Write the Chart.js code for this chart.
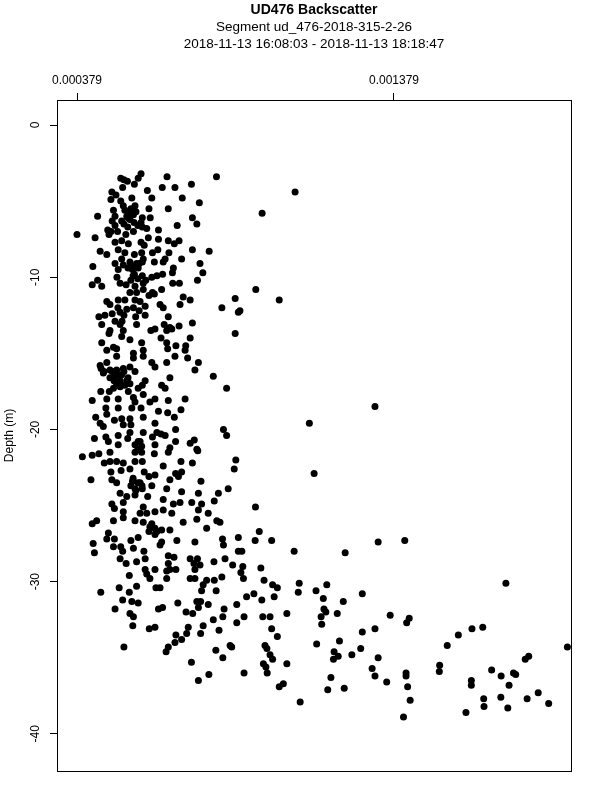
<!DOCTYPE html>
<html>
<head>
<meta charset="utf-8">
<script src="https://cdn.jsdelivr.net/npm/chart.js@4.4.1/dist/chart.umd.min.js"></script>
<style>
  html, body { margin: 0; padding: 0; background: #ffffff; }
  canvas { display: block; }
</style>
</head>
<body>
<canvas id="c" width="600" height="800" style="width:600px;height:800px"></canvas>
<script>
// ---- chart text ----
const titleMain = 'UD476 Backscatter';
const titleSub = ['Segment ud_476-2018-315-2-26', '2018-11-13 16:08:03 - 2018-11-13 18:18:47'];
const yAxisLabel = 'Depth (m)';

// ---- tick labels ----
const xTickValuesE6 = [379, 1379];           // backscatter, in units of 1e-6
const xTickLabels = ['0.000379', '0.001379'];
const yTickValues = [0, -10, -20, -30, -40];
const yTickLabels = ['0', '-10', '-20', '-30', '-40'];

// ---- axis ranges ----
const xRangeE6 = [315.9, 1937.4];
const yRange = [-42.44, 1.643];

// ---- data: backscatter (x 1e-6) and depth (m) ----
const backscatterE6 = [
581,572,517,527,538,560,523,663,819,740,
648,688,601,489,502,552,615,711,486,517,
765,525,562,549,494,606,667,444,499,536,
557,585,610,743,490,520,546,581,757,695,
499,539,585,599,476,636,486,507,557,379,
480,436,533,604,636,667,701,499,520,541,
581,591,686,509,530,452,473,560,583,617,
634,669,743,796,709,657,520,588,
429,499,525,549,567,585,623,651,683,767,
509,554,572,505,560,585,615,631,649,680,
776,444,427,457,515,534,562,588,596,681,
702,759,646,588,567,617,546,623,606,509,
530,562,473,483,578,714,736,704,641,651,
878,836,888,536,557,575,594,515,490,467,
448,564,594,667,499,515,567,457,654,672,
701,743,483,525,625,612,662,678,520,546,
480,644,736,878,457,494,473,504,583,588,
557,662,665,691,722,720,
473,504,557,588,615,625,662,688,728,762,
455,462,483,504,525,546,562,499,520,536,
504,494,515,594,585,572,672,646,657,751,
809,851,454,481,541,557,588,427,473,509,
562,609,625,667,720,470,509,552,581,636,
665,707,473,438,497,520,546,588,686,452,
462,525,549,625,546,588,631,644,690,841,
851,434,470,509,539,617,657,690,478,509,
572,583,625,672,736,749,757,
396,427,448,483,562,583,623,667,760,465,
483,504,525,562,585,651,707,743,880,875,
486,518,546,591,606,625,690,709,699,423,
489,504,554,578,615,672,770,562,585,662,
709,856,825,515,536,562,602,762,489,525,
588,651,683,704,741,772,812,497,525,625,
651,578,599,678,762,793,441,427,494,525,
562,588,615,714,757,820,830,625,646,672,
606,788,478,625,430,473,497,549,572,646,
694,751,838,888,
1067,963,943,1017,893,1319,1112,1127,942,
434,494,517,523,557,590,641,515,534,567,
594,667,685,667,736,759,748,767,811,846,
870,888,899,841,941,954,993,1064,594,625,
599,609,544,567,512,454,544,662,672,691,
662,751,736,751,788,812,836,902,896,904,
959,969,996,1011,1080,628,641,777,772,818,
523,552,572,499,546,557,555,636,649,697,
757,769,762,793,843,883,914,937,962,1001,
723,744,809,839,906,883,965,988,1041,1077,
607,625,730,777,993,1011,691,709,725,769,
827,688,667,660,862,867,972,978,527,817,
988,996,967,975,979,839,740,1041,906,795,
762,1030,1017,1083,
1329,1413,1225,1133,1167,1156,1219,1279,1158,1164,
1149,1200,1151,1135,1207,1279,1319,1367,1427,1419,
1190,1188,1203,1246,1274,1180,1170,1222,1310,1329,
1319,1356,1417,1417,1422,1430,1409,1547,1582,1625,
1659,1732,1523,1522,1623,1623,1606,1662,1663,1687,
1717,1716,1738,1742,1756,1763,1793,1804,1799,1834,
1867,1926,
// overlapping points inside the dense core clusters
490,508,527,540,515,496,530,546,483,546,
559,575,540,530,546,565,540,559,571,527,
556,571,584,565,549,562,578,571,609,631,
452,464,556,571,549,508,527,521
];

const depthM = [
-3.2,-3.5,-3.5,-3.6,-3.7,-3.9,-4.1,-3.4,-3.4,-3.9,
-4.1,-4.1,-4.3,-4.4,-4.6,-4.8,-4.8,-4.8,-4.9,-5.0,
-5.1,-5.3,-5.3,-5.5,-5.6,-5.5,-5.5,-6.0,-6.0,-6.0,
-5.9,-6.1,-6.1,-6.1,-6.3,-6.3,-6.2,-6.4,-6.5,-6.6,
-6.6,-6.7,-6.7,-6.8,-6.9,-6.9,-7.0,-7.0,-7.0,-7.2,
-7.2,-7.4,-7.2,-7.4,-7.5,-7.6,-7.6,-7.7,-7.6,-7.8,
-7.7,-7.9,-7.8,-8.2,-8.4,-8.3,-8.5,-8.5,-8.4,-8.4,
-8.2,-8.4,-8.2,-8.3,-8.8,-8.8,-8.8,-8.8,
-9.3,-9.1,-9.2,-9.2,-9.1,-9.0,-9.0,-9.0,-9.4,-9.1,
-9.5,-9.5,-9.4,-10.0,-9.8,-9.9,-10.0,-9.9,-9.8,-9.7,
-9.7,-10.2,-10.5,-10.6,-10.4,-10.5,-10.6,-10.4,-10.2,-10.4,
-10.4,-10.2,-10.8,-10.8,-11.0,-11.0,-11.0,-11.1,-11.2,-11.5,
-11.5,-11.5,-11.6,-11.8,-11.6,-11.3,-11.5,-11.8,-11.8,-12.0,
-11.4,-12.0,-12.3,-12.1,-12.0,-12.2,-11.9,-12.3,-12.4,-12.5,
-12.6,-12.6,-12.5,-12.6,-12.9,-13.1,-13.1,-13.1,-13.1,-13.3,
-13.2,-13.0,-13.5,-13.5,-13.4,-13.5,-13.5,-13.4,-13.9,-14.1,
-13.7,-14.0,-14.0,-13.7,-14.3,-14.6,-14.8,-14.7,-14.3,-14.8,
-15.0,-14.3,-14.7,-14.5,-14.5,-14.8,
-15.6,-15.2,-15.3,-15.2,-15.6,-15.9,-15.6,-15.2,-15.3,-15.6,
-16.0,-16.3,-16.1,-16.1,-16.0,-15.9,-16.2,-16.5,-16.4,-16.8,
-17.0,-17.3,-17.2,-16.8,-17.1,-17.3,-16.6,-17.1,-17.3,-16.1,
-16.5,-17.3,-17.5,-17.5,-17.5,-17.9,-17.7,-18.1,-18.0,-18.0,
-18.2,-18.2,-18.0,-18.1,-18.0,-18.6,-18.6,-18.6,-18.6,-18.8,
-18.9,-18.7,-19.0,-19.2,-19.4,-19.3,-19.3,-19.2,-19.2,-19.6,
-19.8,-19.7,-19.7,-19.6,-20.2,-20.2,-20.2,-20.3,-20.0,-20.0,
-20.4,-20.6,-20.5,-20.4,-20.6,-20.5,-20.4,-20.8,-20.8,-21.0,
-20.8,-21.1,-21.0,-21.2,-20.9,-20.7,-21.3,
-21.8,-21.7,-21.6,-21.5,-21.5,-21.5,-21.6,-21.5,-21.4,-22.2,
-22.1,-22.1,-22.2,-22.1,-22.1,-22.4,-22.1,-22.2,-22.0,-22.6,
-22.8,-22.7,-22.6,-22.8,-23.1,-23.0,-22.9,-22.8,-23.1,-23.3,
-23.3,-23.5,-23.4,-23.5,-23.7,-23.3,-23.4,-23.9,-23.9,-23.9,
-24.1,-23.9,-24.2,-24.2,-24.4,-24.3,-24.4,-24.2,-24.9,-24.8,
-25.1,-24.6,-24.9,-24.8,-24.8,-24.9,-24.7,-25.2,-25.4,-25.4,
-25.3,-25.5,-25.5,-25.5,-25.3,-25.5,-26.0,-26.2,-26.0,-25.8,
-26.0,-26.1,-26.2,-26.1,-25.9,-26.0,-26.1,-26.5,-26.6,-26.6,
-26.7,-26.5,-26.8,-26.9,-27.5,-27.2,-27.2,-27.3,-27.1,-27.4,
-27.3,-27.4,-27.2,-27.1,
-4.4,-5.8,-10.8,-11.5,-12.2,-18.5,-19.6,-22.9,-25.1,
-28.1,-27.7,-27.7,-28.0,-27.8,-28.0,-27.6,-28.5,-28.8,-28.7,
-28.5,-28.3,-28.4,-28.8,-28.5,-28.5,-28.8,-28.9,-28.7,-28.5,
-28.9,-28.0,-28.0,-27.6,-27.3,-26.7,-27.3,-28.0,-29.2,-29.2,
-29.5,-29.8,-29.6,-30.3,-30.4,-30.7,-30.7,-29.3,-29.2,-29.2,
-29.8,-29.2,-29.8,-29.8,-29.9,-29.9,-29.7,-29.0,-29.4,-29.8,
-29.1,-29.9,-30.2,-30.4,-30.1,-30.4,-30.4,-30.2,-30.6,-30.6,
-31.2,-31.3,-31.4,-31.8,-32.1,-32.3,-32.9,-31.8,-31.7,-31.4,
-31.3,-31.3,-31.7,-31.5,-31.8,-31.5,-31.0,-30.8,-31.2,-31.0,
-32.0,-32.1,-32.5,-32.3,-32.3,-32.7,-32.3,-32.3,-32.1,-30.7,
-33.1,-33.0,-33.0,-32.9,-33.1,-33.6,-33.5,-33.8,-33.4,-33.4,
-33.2,-34.0,-34.3,-34.6,-34.2,-34.3,-34.2,-34.4,-34.3,-34.5,
-34.8,-35.1,-35.4,-35.6,-36.0,-35.0,-35.3,-35.4,-36.0,-36.1,
-36.5,-36.7,-36.9,-37.9,
-27.4,-27.3,-28.1,-30.6,-30.2,-31.1,-31.3,-30.8,-31.8,-32.0,
-32.3,-32.1,-32.8,-34.1,-33.9,-33.3,-33.1,-32.2,-32.4,-32.7,
-34.6,-35.1,-34.9,-34.8,-34.4,-36.3,-37.1,-37.0,-35.7,-35.0,
-36.2,-36.6,-36.0,-36.2,-36.9,-37.8,-38.9,-34.2,-33.5,-33.1,
-33.0,-30.1,-35.5,-35.9,-36.5,-36.8,-38.6,-37.7,-38.2,-35.8,
-36.2,-37.6,-38.3,-36.8,-36.0,-36.1,-35.1,-34.9,-37.7,-37.3,
-38.0,-34.3,
// overlapping points inside the dense core clusters
-16.2,-16.4,-16.2,-16.6,-16.8,-16.8,-17.1,-17.0,-16.6,-9.0,
-9.3,-9.1,-9.4,-5.6,-5.8,-5.7,-6.1,-6.4,-6.6,-6.5,
-23.2,-23.5,-23.7,-24.0,-23.7,-21.0,-20.8,-21.3,-26.4,-26.7,
-15.8,-16.2,-9.9,-10.1,-10.2,-12.0,-12.5,-12.9
];

// ---- build ----
const FONT = "'Liberation Sans', Arial, Helvetica, sans-serif";
const n = Math.min(backscatterE6.length, depthM.length);
const points = [];
for (let i = 0; i < n; i++) points.push({ x: backscatterE6[i] * 1e-6, y: depthM[i] });

const boxPlugin = {
  id: 'rbox',
  afterDraw(chart) {
    const a = chart.chartArea, ctx = chart.ctx;
    ctx.save();
    ctx.strokeStyle = '#000';
    ctx.lineWidth = 1;
    ctx.strokeRect(a.left + 0.5, a.top + 0.5, a.right - a.left, a.bottom - a.top);
    ctx.restore();
  }
};

const yLabelPlugin = {
  id: 'yRotLabels',
  afterDraw(chart) {
    const ys = chart.scales.y, ctx = chart.ctx;
    ctx.save();
    ctx.fillStyle = '#000';
    ctx.font = '12px ' + FONT;
    ctx.textAlign = 'center';
    ctx.textBaseline = 'middle';
    yTickValues.forEach((v, i) => {
      const py = ys.getPixelForValue(v);
      ctx.save();
      ctx.translate(36, py);
      ctx.rotate(-Math.PI / 2);
      ctx.fillText(yTickLabels[i], 0, 0);
      ctx.restore();
    });
    ctx.restore();
  }
};

new Chart(document.getElementById('c'), {
  type: 'scatter',
  data: {
    datasets: [{
      data: points,
      backgroundColor: '#000',
      borderColor: '#000',
      borderWidth: 0,
      pointRadius: 3.5,
      pointHoverRadius: 3.5
    }]
  },
  options: {
    responsive: false,
    animation: false,
    devicePixelRatio: 1,
    events: [],
    layout: { padding: { left: 0, right: 29, top: 0, bottom: 29 } },
    plugins: {
      legend: { display: false },
      tooltip: { enabled: false },
      title: {
        display: true,
        fullSize: false,
        text: titleMain,
        color: '#000',
        font: { family: FONT, size: 14, weight: 'bold', lineHeight: '16px' },
        padding: { top: 2, bottom: 0 }
      },
      subtitle: {
        display: true,
        fullSize: false,
        text: titleSub,
        color: '#000',
        font: { family: FONT, size: 13.5, weight: 'normal', lineHeight: '17px' },
        padding: { top: 1, bottom: 0 }
      }
    },
    scales: {
      x: {
        type: 'linear',
        position: 'top',
        min: xRangeE6[0] * 1e-6,
        max: xRangeE6[1] * 1e-6,
        bounds: 'data',
        afterBuildTicks(s) { s.ticks = xTickValuesE6.map(v => ({ value: v * 1e-6 })); },
        afterFit(s) { s.height = 47; },
        ticks: {
          autoSkip: false, maxRotation: 0, minRotation: 0,
          padding: 5, color: '#000',
          font: { family: FONT, size: 12 },
          callback: (v, i) => xTickLabels[i]
        },
        grid: { drawOnChartArea: false, drawTicks: true, tickLength: 7, color: '#000', lineWidth: 1 },
        border: { display: true, color: '#000', width: 1 }
      },
      y: {
        type: 'linear',
        position: 'left',
        min: yRange[0],
        max: yRange[1],
        bounds: 'data',
        afterBuildTicks(s) { s.ticks = yTickValues.map(v => ({ value: v })); },
        afterFit(s) { s.width = 57; },
        ticks: { display: false },
        grid: { drawOnChartArea: false, drawTicks: true, tickLength: 7, color: '#000', lineWidth: 1 },
        border: { display: true, color: '#000', width: 1 },
        title: {
          display: true,
          text: yAxisLabel,
          color: '#000',
          font: { family: FONT, size: 12 },
          padding: { top: 2, bottom: 0 }
        }
      }
    }
  },
  plugins: [boxPlugin, yLabelPlugin]
});
</script>
</body>
</html>
